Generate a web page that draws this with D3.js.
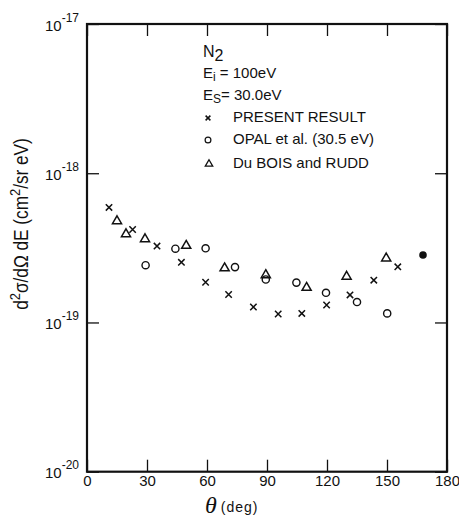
<!DOCTYPE html>
<html>
<head>
<meta charset="utf-8">
<script src="https://cdn.jsdelivr.net/npm/d3@7"></script>
<style>
  body { margin: 0; background: #fff; }
  text { font-family: "Liberation Sans", Arial, sans-serif; fill: #111; }
</style>
</head>
<body>
<svg id="chart" width="459" height="521"></svg>
<script>
// data: [theta (deg), d2sigma/dOmega dE (cm2/sr eV)]
const present = [[11,5.9e-19],[22.8,4.2e-19],[35,3.25e-19],[47.2,2.53e-19],[59.3,1.86e-19],[70.8,1.54e-19],
  [83.2,1.27e-19],[95.6,1.14e-19],[107.4,1.15e-19],[119.8,1.31e-19],[131.5,1.53e-19],[143.4,1.92e-19],[155.4,2.36e-19]]
const opal = [[29.3,2.42e-19],[44.2,3.12e-19],[59.3,3.14e-19],[74,2.35e-19],[89.4,1.94e-19],[104.7,1.85e-19],
  [119.5,1.58e-19],[135,1.37e-19],[150.1,1.15e-19]]
const dubois = [[15,4.78e-19],[19.5,3.91e-19],[29,3.62e-19],[49.6,3.27e-19],[68.8,2.31e-19],[89.4,2.08e-19],
  [109.8,1.71e-19],[129.8,2.03e-19],[149.6,2.69e-19]]
const filled = [[168,2.83e-19]]
const xTicks = [0,30,60,90,120,150,180]
const yTicks = [1e-17,1e-18,1e-19,1e-20]
const legendInfo = ["PRESENT RESULT","OPAL et al. (30.5 eV)","Du BOIS and RUDD"]

let svg = d3.select("#chart")
let L = 87, R = 447, T = 24, B = 471.7

let x = d3.scaleLinear().domain([0,180]).range([L,R])
let y = d3.scaleLog().domain([1e-20,1e-17]).range([B,T])

//axes, ticks pointing inside
let gx = svg.append("g").attr("transform",`translate(0,${B})`)
  .call(d3.axisBottom(x).tickValues(xTicks).tickSizeInner(-12).tickSizeOuter(0).tickPadding(3))
gx.selectAll("text").style("font-size","15px").attr("dy","0.75em")
svg.append("g").attr("transform",`translate(0,${T})`)
  .call(d3.axisTop(x).tickValues(xTicks).tickSizeInner(-12).tickSizeOuter(0).tickFormat(""))
let gy = svg.append("g").attr("transform",`translate(${L},0)`)
  .call(d3.axisLeft(y).tickValues(yTicks).tickSizeInner(-12).tickSizeOuter(0).tickFormat(""))
svg.append("g").attr("transform",`translate(${R},0)`)
  .call(d3.axisRight(y).tickValues(yTicks).tickSizeInner(-12).tickSizeOuter(0).tickFormat(""))
svg.selectAll(".domain").remove()
svg.selectAll(".tick line").attr("stroke","#111").attr("stroke-width",1.3)

//y tick labels as 10^n
gy.selectAll(".tick").append("text")
  .attr("x",-8).attr("y",6).attr("text-anchor","end")
  .style("font-size","15px")
  .text("10")
  .append("tspan").attr("dy",-9).style("font-size","12px")
  .text(d => "-" + Math.round(-Math.log10(d)))

//frame
svg.append("rect").attr("x",L).attr("y",T).attr("width",R-L).attr("height",B-T)
  .attr("fill","none").attr("stroke","#111").attr("stroke-width",2.2)

//markers
let cross = (g, s) => g.append("path")
  .attr("d",`M${-s},${-s}L${s},${s}M${-s},${s}L${s},${-s}`)
  .attr("stroke","#111").attr("stroke-width",1.5).attr("fill","none")
let tri = d3.symbol().type(d3.symbolTriangle).size(36)

svg.selectAll(".present").data(present).enter().append("g")
  .attr("transform",d => `translate(${x(d[0])},${y(d[1])})`)
  .each(function(){ cross(d3.select(this),3.2) })
svg.selectAll(".opal").data(opal).enter().append("circle")
  .attr("cx",d => x(d[0])).attr("cy",d => y(d[1])).attr("r",3.6)
  .attr("fill","none").attr("stroke","#111").attr("stroke-width",1.4)
svg.selectAll(".dubois").data(dubois).enter().append("path")
  .attr("d",tri).attr("transform",d => `translate(${x(d[0])},${y(d[1])})`)
  .attr("fill","none").attr("stroke","#111").attr("stroke-width",1.5)
svg.selectAll(".filled").data(filled).enter().append("circle")
  .attr("cx",d => x(d[0])).attr("cy",d => y(d[1])).attr("r",3.8).attr("fill","#111")

//legend block
let lg = svg.append("g").style("font-size","15px")
let n2 = lg.append("text").attr("x",203).attr("y",57).style("font-size","16px").text("N")
n2.append("tspan").attr("dy",4).text("2")
let ei = lg.append("text").attr("x",203).attr("y",78).text("E")
ei.append("tspan").attr("dy",3).style("font-size","12px").text("i")
ei.append("tspan").attr("dy",-3).text(" = 100eV")
let es = lg.append("text").attr("x",203).attr("y",100).text("E")
es.append("tspan").attr("dy",3).style("font-size","12px").text("S")
es.append("tspan").attr("dy",-3).text("= 30.0eV")

let ly = [122,144,168]
cross(lg.append("g").attr("transform",`translate(208,${ly[0]-4})`),2.4)
lg.append("circle").attr("cx",208).attr("cy",ly[1]-4).attr("r",2.9)
  .attr("fill","none").attr("stroke","#111").attr("stroke-width",1.2)
lg.append("path").attr("d",d3.symbol().type(d3.symbolTriangle).size(24))
  .attr("transform",`translate(209,${ly[2]-4})`)
  .attr("fill","none").attr("stroke","#111").attr("stroke-width",1.3)
lg.selectAll(".lt").data(legendInfo).enter().append("text")
  .attr("x",233).attr("y",(d,i) => ly[i]).text(d => d)

//axis titles
let yl = svg.append("text").attr("transform","translate(28,224) rotate(-90) scale(0.86,1)")
  .attr("text-anchor","middle").style("font-size","20px")
yl.append("tspan").text("d")
yl.append("tspan").attr("dy",-8).style("font-size","15px").text("2")
yl.append("tspan").attr("dy",8).text("σ/dΩ  dE (cm")
yl.append("tspan").attr("dy",-8).style("font-size","15px").text("2")
yl.append("tspan").attr("dy",8).text("/sr eV)")

let xl = svg.append("text").attr("x",205).attr("y",513)
xl.append("tspan").style("font-size","24px").style("font-style","italic")
  .style("font-family","'Liberation Serif', serif").text("θ")
xl.append("tspan").attr("dx",4).attr("dy",-1).style("font-size","14px")
  .style("letter-spacing","1px").text("(deg)")
</script>
</body>
</html>
